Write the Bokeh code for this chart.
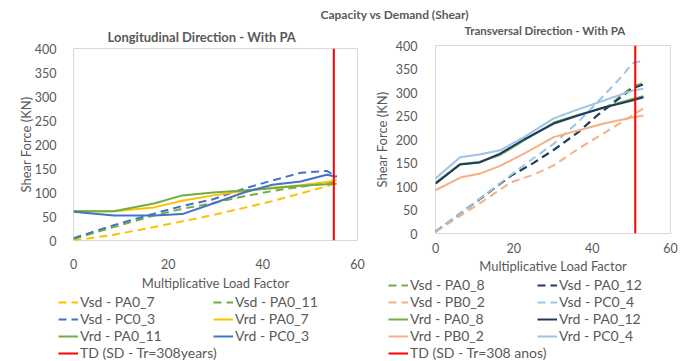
from bokeh.plotting import figure
from bokeh.layouts import column, row
from bokeh.models import Label, Legend, LegendItem, FixedTicker
from bokeh.embed import file_html
from bokeh.resources import INLINE

# ---------------- data ----------------
# Longitudinal direction (load factor vs shear force, kN)
long_x = [0, 8.5, 17, 23, 29.5, 36, 42, 48, 53.5, 55.6]
long_vsd_pa0_7 = [0, 12, 28, 40, 53, 68, 82, 98, 113, 120]
long_vsd_pa0_11 = [3, 28, 52, 66, 78, 92, 103, 112, 120, 122]
long_vsd_pc0_3 = [5, 32, 56, 72, 86, 108, 125, 141, 145, 133]
long_vrd_pa0_7 = [61, 61, 69, 83, 94, 103, 110, 115, 122, 126]
long_vrd_pa0_11 = [61, 61, 77, 94, 100, 104, 109, 114, 117, 118]
long_vrd_pc0_3 = [60, 52, 52, 55, 77, 100, 116, 123, 137, 133]
long_td_x = [55, 55]
long_td_y = [0, 400]

# Transversal direction
trans_x_vsd = [0, 10, 19.3, 25, 30.2, 36.4, 41.3, 47.8, 50.2, 53]
trans_vsd_pa0_8 = [4, 65, 123, 150, 178, 216, 252, 296, 312, 320]
trans_vsd_pa0_12 = [4, 65, 123, 150, 178, 215, 251, 293, 308, 317]
trans_vsd_pb0_2 = [4, 57, 109, 125, 145, 180, 205, 238, 251, 266]
trans_vsd_pc0_4 = [4, 65, 125, 160, 191, 237, 279, 336, 362, 368]
trans_x_vrd = [0, 6.3, 11.2, 16.5, 22.6, 30.2, 36.4, 43, 50.2, 53.1]
trans_vrd_pa0_8 = [108, 148, 152, 167, 198, 236, 252, 268, 286, 292]
trans_vrd_pa0_12 = [106, 147, 151, 170, 200, 234, 251, 268, 283, 290]
trans_vrd_pb0_2 = [92, 119, 127, 144, 170, 205, 219, 234, 247, 251]
trans_vrd_pc0_4 = [117, 162, 168, 177, 205, 245, 264, 283, 304, 308]
trans_td_x = [51, 51]
trans_td_y = [0, 400]

x_ticks = [0, 20, 40, 60]
y_ticks = [0, 50, 100, 150, 200, 250, 300, 350, 400]

# ---------------- styling ----------------
FONT = "Lato"
GREY = "#595959"
YELLOW = "#FFC000"
GREEN = "#70AD47"
BLUE = "#4472C4"
NAVY = "#203864"
SALMON = "#F4B183"
LIGHTBLUE = "#9DC3E6"
RED = "#FF0000"
DASH = "8 5"
LW = 2

# legend columns: (label, colour, dashed)
long_legend_cols = [
    [("Vsd - PA0_7", YELLOW, True),
     ("Vsd - PC0_3", BLUE, True),
     ("Vrd - PA0_11", GREEN, False),
     ("TD (SD - Tr=308years)", RED, False)],
    [("Vsd - PA0_11", GREEN, True),
     ("Vrd - PA0_7", YELLOW, False),
     ("Vrd - PC0_3", BLUE, False)],
]
trans_legend_cols = [
    [("Vsd - PA0_8", GREEN, True),
     ("Vsd - PB0_2", SALMON, True),
     ("Vrd - PA0_8", GREEN, False),
     ("Vrd - PB0_2", SALMON, False),
     ("TD (SD - Tr=308 anos)", RED, False)],
    [("Vsd - PA0_12", NAVY, True),
     ("Vsd - PC0_4", LIGHTBLUE, True),
     ("Vrd - PA0_12", NAVY, False),
     ("Vrd - PC0_4", LIGHTBLUE, False)],
]


def bare_canvas(width, height):
    q = figure(width=width, height=height, x_range=(0, 1), y_range=(0, 1),
               x_axis_type=None, y_axis_type=None, toolbar_location=None,
               output_backend="svg", min_border=0, title=None)
    q.grid.visible = False
    q.outline_line_color = None
    return q


def style_axes(p, tick_standoff_x, label_standoff_x, tick_standoff_y, label_standoff_y):
    p.xaxis.ticker = FixedTicker(ticks=x_ticks)
    p.yaxis.ticker = FixedTicker(ticks=y_ticks)
    p.xaxis.axis_label = "Multiplicative Load Factor"
    p.yaxis.axis_label = "Shear Force (KN)"
    for ax in (p.xaxis[0], p.yaxis[0]):
        ax.axis_line_color = None
        ax.major_tick_line_color = None
        ax.minor_tick_line_color = None
        ax.major_label_text_font = FONT
        ax.major_label_text_font_size = "12.5px"
        ax.major_label_text_color = GREY
        ax.axis_label_text_font = FONT
        ax.axis_label_text_font_size = "13px"
        ax.axis_label_text_font_style = "normal"
        ax.axis_label_text_color = GREY
    p.xaxis.major_label_standoff = tick_standoff_x
    p.xaxis.axis_label_standoff = label_standoff_x
    p.yaxis.major_label_standoff = tick_standoff_y
    p.yaxis.axis_label_standoff = label_standoff_y
    p.grid.visible = False
    p.outline_line_color = "#D9D9D9"
    p.outline_line_width = 1
    p.background_fill_color = "white"
    p.border_fill_color = "white"


def legend_panel(cols, width, height, placements):
    """A bare canvas holding the legend columns for one chart."""
    q = bare_canvas(width, height)
    nan = float("nan")
    for entries, (x, y) in zip(cols, placements):
        items = []
        for label, colour, dashed in entries:
            # swatch-only renderer: carries no drawable point
            r = q.line(x=[nan], y=[nan], line_color=colour, line_width=LW,
                       line_dash=DASH if dashed else "solid")
            items.append(LegendItem(label=label, renderers=[r]))
        lg = Legend(items=items, location=(x, y), orientation="vertical")
        lg.label_text_font = FONT
        lg.label_text_font_size = "14px"
        lg.label_text_color = GREY
        lg.label_height = 14
        lg.glyph_height = 14
        lg.glyph_width = 20
        lg.label_standoff = 2
        lg.spacing = 0
        lg.padding = 0
        lg.margin = 0
        lg.border_line_color = None
        lg.background_fill_alpha = 0
        q.add_layout(lg)
    return q


# ---------------- header ----------------
head = bare_canvas(691, 22)
head.add_layout(Label(x=320, y=8, x_units="screen", y_units="screen",
                      text="Capacity vs Demand (Shear)", text_font=FONT,
                      text_font_size="12px", text_font_style="bold",
                      text_color=GREY, text_baseline="middle"))

# ---------------- longitudinal ----------------
p1 = figure(width=370, height=271, x_range=(0, 60), y_range=(0, 400),
            toolbar_location=None, output_backend="svg",
            min_border_left=73, min_border_right=13,
            min_border_top=26, min_border_bottom=53)
p1.title.text = "Longitudinal Direction - With PA"
p1.title.text_font = FONT
p1.title.text_font_size = "13px"
p1.title.text_font_style = "bold"
p1.title.text_color = GREY
p1.title.align = "left"
p1.title.offset = 34
p1.title.standoff = 7
style_axes(p1, 12, 3, 11, -2)

p1.line(long_x, long_vsd_pa0_7, line_color=YELLOW, line_width=LW, line_dash=DASH)
p1.line(long_x, long_vsd_pa0_11, line_color=GREEN, line_width=LW, line_dash=DASH)
p1.line(long_x, long_vsd_pc0_3, line_color=BLUE, line_width=LW, line_dash=DASH)
p1.line(long_x, long_vrd_pa0_7, line_color=YELLOW, line_width=LW)
p1.line(long_x, long_vrd_pa0_11, line_color=GREEN, line_width=LW)
p1.line(long_x, long_vrd_pc0_3, line_color=BLUE, line_width=LW)
p1.line(long_td_x, long_td_y, line_color=RED, line_width=LW)

leg1 = legend_panel(long_legend_cols, 370, 68, [(58, 0), (213, 17)])

# ---------------- transversal ----------------
trans_title = bare_canvas(321, 15)
trans_title.add_layout(Label(x=94, y=7, x_units="screen", y_units="screen",
                             text="Transversal Direction - With PA", text_font=FONT,
                             text_font_size="11.5px", text_font_style="bold",
                             text_color=GREY, text_baseline="middle"))

p2 = figure(width=321, height=239, x_range=(0, 60), y_range=(0, 400),
            toolbar_location=None, output_backend="svg", title=None,
            min_border_left=54, min_border_right=21,
            min_border_top=8, min_border_bottom=43)
style_axes(p2, 3, 2, 12, 3)

p2.line(trans_x_vsd, trans_vsd_pa0_8, line_color=GREEN, line_width=LW, line_dash=DASH)
p2.line(trans_x_vsd, trans_vsd_pa0_12, line_color=NAVY, line_width=LW, line_dash=DASH)
p2.line(trans_x_vsd, trans_vsd_pb0_2, line_color=SALMON, line_width=LW, line_dash=DASH)
p2.line(trans_x_vsd, trans_vsd_pc0_4, line_color=LIGHTBLUE, line_width=LW, line_dash=DASH)
p2.line(trans_x_vrd, trans_vrd_pa0_8, line_color=GREEN, line_width=LW)
p2.line(trans_x_vrd, trans_vrd_pa0_12, line_color=NAVY, line_width=LW)
p2.line(trans_x_vrd, trans_vrd_pb0_2, line_color=SALMON, line_width=LW)
p2.line(trans_x_vrd, trans_vrd_pc0_4, line_color=LIGHTBLUE, line_width=LW)
p2.line(trans_td_x, trans_td_y, line_color=RED, line_width=LW)

leg2 = legend_panel(trans_legend_cols, 321, 85, [(18, 0), (167, 17)])

# canvases without axes are wrapped in rows so their frames keep their own extent
left_col = column(p1, row(leg1), spacing=0)
right_col = column(row(trans_title), p2, row(leg2), spacing=0)
layout = column(head, row(left_col, right_col, spacing=0), spacing=0)

open("out.html", "w").write(file_html(layout, INLINE))
